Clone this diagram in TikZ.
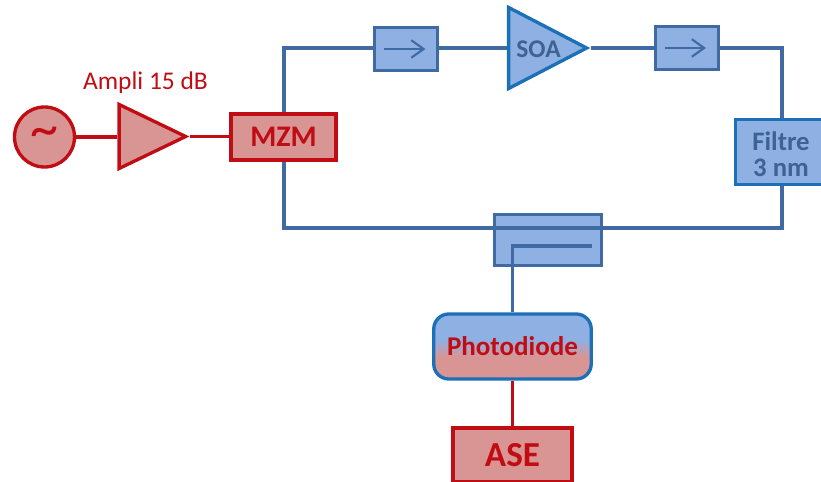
\documentclass[tikz,border=0pt]{standalone}
\usepackage{fontspec}
\setmainfont{Carlito}
\usetikzlibrary{arrows.meta,shapes.geometric}
\definecolor{wireblue}{HTML}{3F6AA3}
\definecolor{edgeblue}{HTML}{1C70B8}
\definecolor{fillblue}{HTML}{8EB0E3}
\definecolor{edgered}{HTML}{C00D14}
\definecolor{fillred}{HTML}{D99594}
\definecolor{textblue}{HTML}{3F6296}
\pgfdeclareverticalshading{photoshade}{100bp}{color(0bp)=(fillred); color(42bp)=(fillred); color(55bp)=(fillblue); color(100bp)=(fillblue)}
\tikzset{
  wire/.style={draw=wireblue,line width=1.9pt},
  redwire/.style={draw=edgered,line width=1.9pt},
  isobox/.style={draw=wireblue,fill=fillblue,line width=1.9pt,inner sep=0pt},
  redbox/.style={draw=edgered,fill=fillred,line width=1.9pt,inner sep=0pt,text=edgered,font=\bfseries},
  ampli/.style={isosceles triangle,isosceles triangle stretches,inner sep=0pt,line width=1.9pt,line join=miter},
}
\begin{document}
\begin{tikzpicture}[x=0.02cm,y=-0.02cm]
  \useasboundingbox (0,0) rectangle (821,482);
  % lignes du haut et du bas
  \coordinate (hautg) at (284,48);
  \coordinate (hautd) at (782,48);
  \coordinate (basg) at (284,228);
  \coordinate (basd) at (782,228);
  \coordinate (sortie) at (592,246);
  % composants
  \node[circle,draw=edgered,fill=fillred,line width=1.9pt,minimum size=1.2cm,inner sep=0pt,text=edgered] (source) at (44.5,137) {\raisebox{-3pt}{\fontsize{32}{32}\selectfont\textasciitilde}};
  \node[ampli,draw=edgered,fill=fillred,minimum width=1.28cm,minimum height=1.33cm,anchor=apex] (ampli) at (190,136.5) {};
  \node[text=edgered,font=\fontsize{14.5}{16}\selectfont,anchor=base] (gain) at (145.5,90) {Ampli 15 dB};
  \node[redbox,minimum width=2.1cm,minimum height=0.92cm,font=\bfseries\fontsize{17}{19}\selectfont] (mzm) at (283.5,137) {MZM};
  \node[isobox,minimum width=1.27cm,minimum height=0.85cm] (isoa) at (406,49) {};
  \node[ampli,draw=edgeblue,fill=fillblue,minimum width=1.62cm,minimum height=1.56cm,anchor=apex] (soa) at (591,48) {};
  \node[text=textblue,font=\bfseries\fontsize{14.5}{16}\selectfont] (soatxt) at (538.5,49) {SOA};
  \node[isobox,minimum width=1.25cm,minimum height=0.85cm] (isob) at (687,48) {};
  \node[draw=edgeblue,fill=fillblue,line width=1.9pt,minimum width=1.9cm,minimum height=1.3cm,inner sep=0pt] (filtre) at (783,152) {};
  \node[align=center,text=textblue,font=\bfseries\fontsize{15.2}{15}\selectfont] (filtretxt) at (781,154) {Filtre\\3 nm};
  \node[isobox,minimum width=2.15cm,minimum height=1.02cm] (coupleur) at (548,240) {};
  \node[rounded corners=0.3cm,draw=edgeblue,line width=1.9pt,minimum width=3.15cm,minimum height=1.3cm,inner sep=0pt,shading=photoshade,text=edgered,font=\bfseries\fontsize{15.4}{17}\selectfont] (photo) at (512.5,346.5) {Photodiode};
  \node[redbox,minimum width=2.38cm,minimum height=1.08cm,font=\bfseries\fontsize{20}{22}\selectfont] (ase) at (512.5,455) {ASE};
  % liaisons
  \draw[redwire] (source) -- (source-|ampli.lower side);
  \draw[redwire] (ampli.apex) -- (ampli.apex-|mzm.west);
  \draw[wire] (mzm.north-|hautg) -- (hautg) -- (isoa.west|-hautg);
  \draw[wire] (isoa.east|-hautg) -- (soa.lower side|-hautg);
  \draw[wire] (soa.apex) -- (isob.west);
  \draw[wire] (isob.east) -- (hautd) -- (filtre.north-|hautd);
  \draw[wire] (filtre.south-|basd) -- (basd) -- (basg) -- (mzm.south-|basg);
  \draw[wire] (photo.north-|ase) |- (sortie);
  \draw[redwire] (photo.south-|ase) -- (ase.north);
  % fleches des isolateurs
  \foreach \iso in {isoa,isob}
    \draw[draw=wireblue,line width=1.2pt,shorten <=0.22cm,shorten >=0.28cm,-{Straight Barb[length=7pt,width=10pt,line width=1.2pt]}] (\iso.west) -- (\iso.east);
\end{tikzpicture}
\end{document}
